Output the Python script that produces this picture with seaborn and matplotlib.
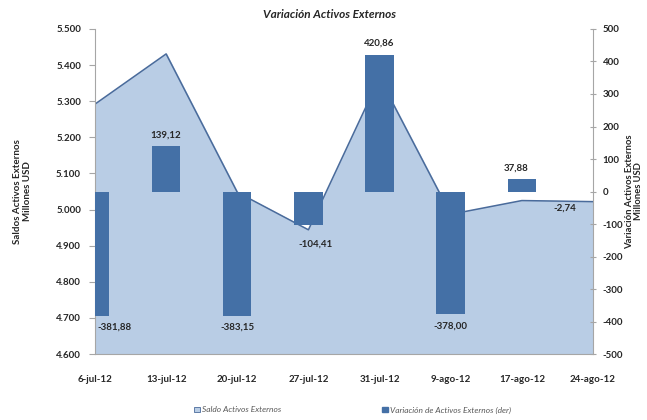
import numpy as np
import pandas as pd
import matplotlib
matplotlib.use("Agg")
import matplotlib.pyplot as plt
import seaborn as sns
from matplotlib.patches import Patch

# ==========================================
# DATA
# ==========================================

fechas = ["6-jul-12", "13-jul-12", "20-jul-12", "27-jul-12",
          "31-jul-12", "9-ago-12", "17-ago-12", "24-ago-12"]

saldo = [5292, 5431, 5048, 4944, 5365, 4987, 5025, 5022]

variacion = [-381.88, 139.12, -383.15, -104.41, 420.86, -378.00, 37.88, -2.74]

left_ticks = [4600, 4700, 4800, 4900, 5000, 5100, 5200, 5300, 5400, 5500]
right_ticks = [-500, -400, -300, -200, -100, 0, 100, 200, 300, 400, 500]

df = pd.DataFrame({"fecha": fechas, "saldo": saldo, "variacion": variacion})

# ==========================================
# STYLE
# ==========================================

sns.set_style("white")
plt.rcParams["font.family"] = ["Lato", "DejaVu Sans"]

col_area = "#b9cde5"
col_line = "#4a6b9b"
col_bar = "#4470a6"
col_axis = "#a6a6a6"

fig = plt.figure(figsize=(6.47, 4.20), dpi=100)
ax = fig.add_axes([0.1468, 0.157, 0.7697, 0.774])

# ==========================================
# AREA (left axis)
# ==========================================

xpos = np.arange(len(fechas))
ax.fill_between(xpos, df["saldo"], 4600, color=col_area, zorder=1)
sns.lineplot(x=xpos, y=df["saldo"], ax=ax, color=col_line, linewidth=1.1, zorder=2)

ax.set_ylim(4600, 5500)
ax.set_xlim(0, len(fechas) - 1)
ax.set_yticks(left_ticks)
ax.set_yticklabels([f"{v:,.0f}".replace(",", ".") for v in left_ticks],
                   fontsize=7, fontweight="bold", color="#262626")
ax.set_xticks(xpos)
ax.set_xticklabels(fechas, fontsize=7, fontweight="bold", color="#262626")
ax.tick_params(axis="x", length=4, pad=11, color=col_axis, direction="out")
ax.tick_params(axis="y", length=4, pad=6, color=col_axis, direction="out", left=True)
ax.set_ylabel("Saldos Activos Externos\nMillones USD", fontsize=7,
              fontweight="bold", color="#262626", labelpad=17)
ax.set_xlabel("")
for s in ["top", "right"]:
    ax.spines[s].set_visible(False)
for s in ["left", "bottom"]:
    ax.spines[s].set_color(col_axis)
    ax.spines[s].set_linewidth(0.8)

# ==========================================
# BARS (right axis)
# ==========================================

ax2 = ax.twinx()
sns.barplot(data=df, x="fecha", y="variacion", ax=ax2, color=col_bar,
            width=0.4, saturation=1, edgecolor=col_bar, linewidth=0, zorder=3)
ax2.set_xlim(0, len(fechas) - 1)
ax2.set_ylim(-500, 500)
ax2.set_yticks(right_ticks)
ax2.set_yticklabels([str(v) for v in right_ticks], fontsize=7,
                    fontweight="bold", color="#262626")
ax2.tick_params(axis="y", length=4, pad=5, color=col_axis, direction="inout", right=True)
ax2.set_ylabel("Variación Activos Externos\nMillones USD", fontsize=6.8,
               fontweight="bold", color="#262626", labelpad=1, linespacing=1.05)
ax2.set_xlabel("")
ax2.patch.set_visible(False)
for s in ["top", "left", "bottom"]:
    ax2.spines[s].set_visible(False)
ax2.spines["right"].set_color(col_axis)
ax2.spines["right"].set_linewidth(0.8)

# value labels
shift = [0.28, 0, 0, 0.1, 0, 0, -0.08, -0.4]
extra = [0, 0, 0, -5, 0, 0, 0, -3]
for i, v in enumerate(variacion):
    txt = f"{v:.2f}".replace(".", ",")
    if v >= 0:
        ax2.annotate(txt, (i + shift[i], v), xytext=(0, 5), textcoords="offset points",
                     ha="center", va="bottom", fontsize=7, fontweight="bold",
                     color="#262626", annotation_clip=False)
    else:
        ax2.annotate(txt, (i + shift[i], v), xytext=(0, -5 + extra[i]),
                     textcoords="offset points",
                     ha="center", va="top", fontsize=7, fontweight="bold",
                     color="#262626", annotation_clip=False)

# ==========================================
# TITLE & LEGEND
# ==========================================

fig.text(0.51, 0.965, "Variación Activos Externos", ha="center", va="center",
         fontsize=8.5, fontweight="bold", fontstyle="italic", color="#262626")

handles = [Patch(facecolor=col_area, edgecolor=col_line, linewidth=0.6,
                 label="Saldo Activos Externos"),
           Patch(facecolor=col_bar, edgecolor=col_bar,
                 label="Variación de Activos Externos (der)")]
leg = fig.legend(handles=handles, loc="center", bbox_to_anchor=(0.545, 0.024),
                 ncol=2, frameon=False, handlelength=0.7, handleheight=0.7,
                 handletextpad=0.3, columnspacing=12,
                 prop={"size": 6, "style": "italic"})
for t in leg.get_texts():
    t.set_color("#595959")

fig.savefig("out.png", dpi=100)
